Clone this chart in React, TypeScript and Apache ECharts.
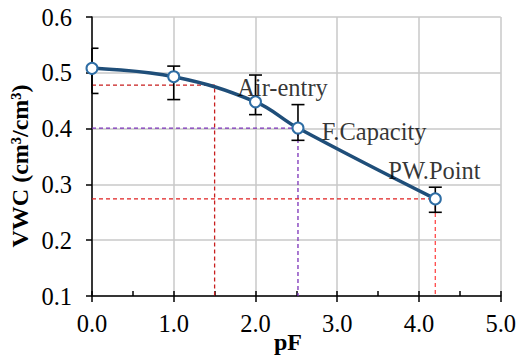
import React, { useEffect, useRef } from "react";
import * as echarts from "echarts";

const pF = [0, 1, 2, 2.52, 4.2];
const vwc = [0.508, 0.493, 0.448, 0.401, 0.274];
const errHigh = [0.544, 0.512, 0.496, 0.443, 0.295];
const errLow = [0.463, 0.452, 0.425, 0.379, 0.25];
const airEntry = [1.5, 0.478];
const fieldCapacity = [2.52, 0.401];
const wiltingPoint = [4.2, 0.274];
const labelNames = ["Air-entry", "F.Capacity", "PW.Point"];
const labelX = [1.776, 2.81, 3.625];
const labelY = [0.474, 0.394, 0.325];
const yTitle = "VWC (cm³/cm³)";
const xTitle = "pF";

const FONT = "Liberation Serif";

export default function App() {
  const ref = useRef<HTMLDivElement>(null);
  useEffect(() => {
    if (!ref.current) return;
    const chart = echarts.init(ref.current, undefined, { renderer: "svg" });
    const dashed = (pt: number[], color: string, withH = true, withV = true) => {
      const d: number[][] = [];
      if (withH) d.push([0, pt[1]]);
      d.push([pt[0], pt[1]]);
      if (withV) d.push([pt[0], 0.1]);
      return {
        type: "line",
        data: d,
        symbol: "none",
        silent: true,
        z: 3,
        lineStyle: { color, width: 1.3, type: [4, 3] },
      };
    };
    chart.setOption({
      animation: false,
      textStyle: { fontFamily: FONT },
      grid: { left: 92, right: 16, top: 17, bottom: 60 },
      xAxis: [
        {
          type: "value",
          min: 0,
          max: 5,
          interval: 1,
          axisLine: { lineStyle: { color: "#000", width: 1.5 } },
          axisTick: { length: 6, lineStyle: { color: "#000", width: 1.5 } },
          axisLabel: {
            color: "#000",
            fontFamily: FONT,
            fontSize: 24.5,
            margin: 15,
            formatter: (v: number) => v.toFixed(1),
          },
          splitLine: { lineStyle: { color: "#c8c8c8", width: 1.5 } },
        },
        {
          type: "value",
          min: 0,
          max: 5,
          interval: 0.5,
          position: "bottom",
          axisLine: { show: false },
          axisTick: { inside: true, length: 5, lineStyle: { color: "#000", width: 1.5 } },
          axisLabel: { show: false },
          splitLine: { show: false },
        },
      ],
      yAxis: {
        type: "value",
        min: 0.1,
        max: 0.6,
        interval: 0.1,
        axisLine: { show: true, lineStyle: { color: "#000", width: 1.5 } },
        axisTick: { show: true, length: 6, lineStyle: { color: "#000", width: 1.5 } },
        axisLabel: {
          color: "#000",
          fontFamily: FONT,
          fontSize: 24.5,
          margin: 20,
          formatter: (v: number) => v.toFixed(1),
        },
        splitLine: { lineStyle: { color: "#c8c8c8", width: 1.5 } },
      },
      graphic: [
        {
          type: "text",
          x: 20,
          y: 166,
          rotation: Math.PI / 2,
          style: {
            text: yTitle,
            fontFamily: FONT,
            fontSize: 24,
            fontWeight: "bold",
            fill: "#000",
            textAlign: "center",
            textVerticalAlign: "middle",
          },
        },
        {
          type: "text",
          x: 288,
          y: 342,
          style: {
            text: xTitle,
            fontFamily: FONT,
            fontSize: 24,
            fontWeight: "bold",
            fill: "#000",
            textAlign: "center",
            textVerticalAlign: "middle",
          },
        },
      ],
      series: [
        dashed(airEntry, "#c81e1e"),
        dashed(fieldCapacity, "#7b30b8"),
        dashed(wiltingPoint, "#e02020", true, false),
        dashed(wiltingPoint, "#ff4848", false, true),
        {
          type: "custom",
          z: 4,
          data: pF.map((x, i) => [x, errLow[i], errHigh[i]]),
          renderItem: (params: any, api: any) => {
            const lo = api.coord([api.value(0), api.value(1)]);
            const hi = api.coord([api.value(0), api.value(2)]);
            const w = 6.5;
            const left = Math.max(lo[0] - w, params.coordSys.x);
            const style = { stroke: "#000", lineWidth: 1.6 };
            return {
              type: "group",
              children: [
                { type: "line", shape: { x1: lo[0], y1: lo[1], x2: hi[0], y2: hi[1] }, style },
                { type: "line", shape: { x1: left, y1: lo[1], x2: lo[0] + w, y2: lo[1] }, style },
                { type: "line", shape: { x1: left, y1: hi[1], x2: hi[0] + w, y2: hi[1] }, style },
              ],
            };
          },
        },
        {
          type: "line",
          data: pF.map((x, i) => [x, vwc[i]]),
          smooth: 0.4,
          z: 5,
          symbol: "circle",
          symbolSize: 11,
          lineStyle: { color: "#1f4e79", width: 3.5 },
          itemStyle: { color: "#fff", borderColor: "#2e6da4", borderWidth: 2 },
        },
        {
          type: "scatter",
          z: 6,
          symbolSize: 0,
          silent: true,
          data: labelNames.map((n, i) => ({ name: n, value: [labelX[i], labelY[i]] })),
          label: {
            show: true,
            position: "right",
            distance: 0,
            formatter: (p: any) => p.name,
            color: "#000",
            fontFamily: FONT,
            fontSize: 24.5,
          },
        },
      ],
    });
    return () => chart.dispose();
  }, []);
  return (
    <div
      ref={ref}
      style={{ position: "fixed", left: 0, top: 0, width: 519, height: 356, background: "#fff" }}
    />
  );
}
